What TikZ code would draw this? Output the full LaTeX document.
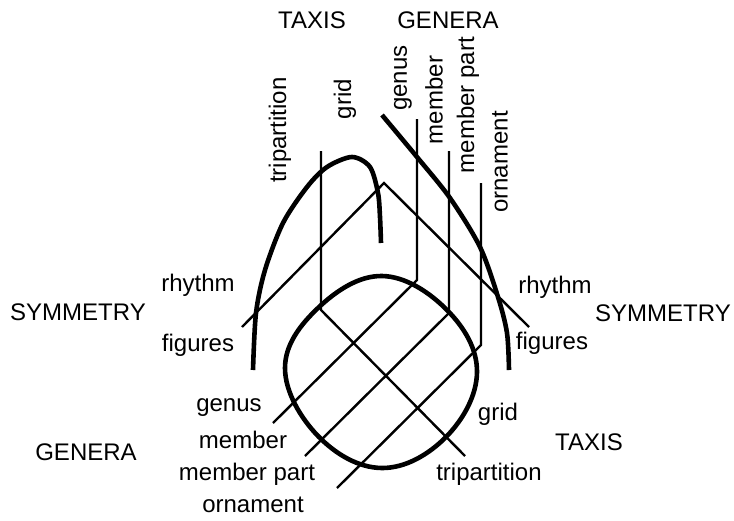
\documentclass[tikz,border=0pt]{standalone}
\usepackage{fontspec}
\setmainfont{Liberation Sans}
\usepackage{tikz}
\usetikzlibrary{positioning}

\begin{document}
\begin{tikzpicture}[
  x=0.5pt, y=-0.5pt,
  every node/.style={font=\fontsize{12}{14}\selectfont, inner sep=0pt},
  heavy/.style={line width=2.3pt},
  divider/.style={line width=1.2pt, line join=miter},
  upright/.style={rotate=90}
]
  \useasboundingbox (0,0) rectangle (734,520);

  % heavy outlines
  \draw[heavy] plot[smooth] coordinates {(253,370) (256,313) (265,270) (283,223) (307,187) (327,167) (352,157) (370,167) (378,193) (380,217) (381,243)};
  \draw[heavy] plot[smooth] coordinates {(382,115) (417,157) (450,198) (480,247) (498,297) (507,333) (509,370)};
  \draw[heavy] plot[smooth cycle, tension=0.66] coordinates {(382,276) (447,310) (477,372) (446,437) (382,468) (318,436) (285,368) (318,308)};

  % dividers
  \coordinate (tripTop) at (321,151);
  \coordinate (tripBend) at (321,310);
  \coordinate (tripEnd) at (465,456);
  \coordinate (genTop) at (417,119);
  \coordinate (genBend) at (417,280);
  \coordinate (genEnd) at (273,423);
  \coordinate (memTop) at (449,151);
  \coordinate (memBend) at (449,313);
  \coordinate (memEnd) at (305,456);
  \coordinate (partTop) at (481,183);
  \coordinate (partBend) at (481,345);
  \coordinate (partEnd) at (337,488);
  \coordinate (symLeft) at (242,327);
  \coordinate (symApex) at (384,183);
  \coordinate (symRight) at (529,327);
  \draw[divider] (tripTop) -- (tripBend) -- (tripEnd);
  \draw[divider] (genTop) -- (genBend) -- (genEnd);
  \draw[divider] (memTop) -- (memBend) -- (memEnd);
  \draw[divider] (partTop) -- (partBend) -- (partEnd);
  \draw[divider] (symLeft) -- (symApex) -- (symRight);

  % headings
  \node (taxisTop) at (312,20) {TAXIS};
  \node (generaTop) at (448,20) {GENERA};
  \node (symL) at (78,312) {SYMMETRY};
  \node (symR) at (663,313) {SYMMETRY};
  \node (generaL) at (86,452) {GENERA};
  \node (taxisR) at (589,442) {TAXIS};

  % top labels
  \node[upright] (tripT) at (280,130) {tripartition};
  \node[upright] (gridT) at (345,99) {grid};
  \node[upright] (genusT) at (403,78) {genus};
  \node[upright] (memberT) at (434,100) {member};
  \node[upright] (partT) at (468,105) {member part};
  \node[upright] (ornT) at (500,162) {ornament};

  % side labels
  \node (rhythmL) at (198,285) {rhythm};
  \node (figuresL) at (198,345) {figures};
  \node (rhythmR) at (555,287) {rhythm};
  \node (figuresR) at (552,343) {figures};

  % bottom labels
  \node (genusB) at (229,408) {genus};
  \node (memberB) at (243,440) {member};
  \node (partB) at (247,474) {member part};
  \node (ornB) at (253,505) {ornament};
  \node (gridB) at (498,414) {grid};
  \node (tripB) at (489,474) {tripartition};
\end{tikzpicture}
\end{document}
